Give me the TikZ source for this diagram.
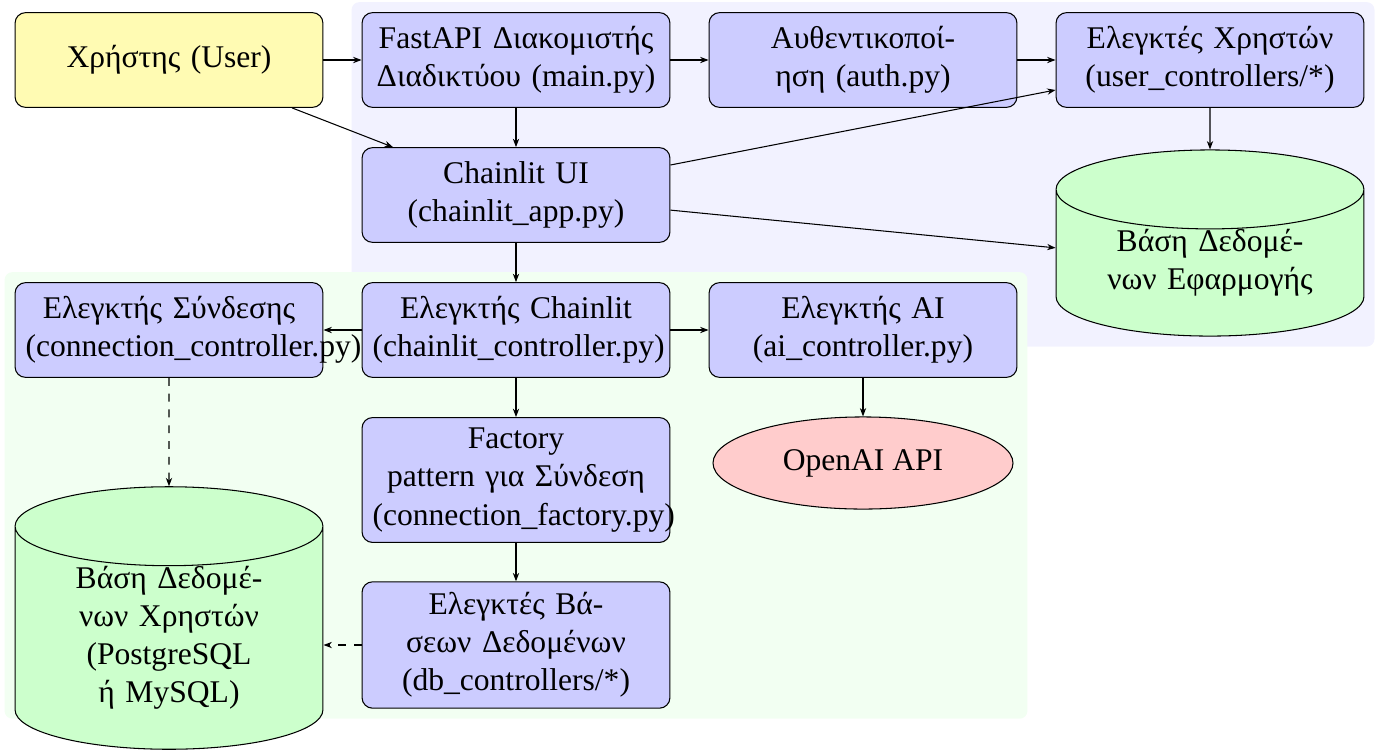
\documentclass[tikz,border=0pt]{standalone}
\usepackage{fontspec}
\setmainfont{Liberation Serif}
\usetikzlibrary{arrows.meta,shapes.geometric,fit,backgrounds}

\tikzset{
  module/.style={draw, rounded corners=4pt, fill=blue!20, text width=109pt,
    align=center, minimum height=36pt, inner sep=4pt},
  actor/.style={module, fill=yellow!30},
  database/.style={draw, cylinder, shape border rotate=90, aspect=0.30,
    fill=green!20, text width=100pt, align=center, minimum width=117pt,
    inner sep=0pt},
  service/.style={draw, ellipse, fill=red!20, minimum width=114pt,
    minimum height=35pt, inner sep=0pt},
  link/.style={-{Stealth[length=3.2pt,width=2.4pt]}},
  weak/.style={link, dashed},
  group/.style={rounded corners=3pt, inner sep=3.8pt},
}

\begin{document}
\begin{tikzpicture}[x=0.38pt,y=-0.38pt,font=\fontsize{12}{14.5}\selectfont]
\useasboundingbox (0,0) rectangle (1380,751);

% Web layer
\node[actor]  (user)     at (169,60)  {Χρήστης (User)};
\node[module] (fastapi)  at (516,60)  {FastAPI Διακομιστής\\Διαδικτύου (main.py)};
\node[module] (auth)     at (863,60)  {Αυθεντικοποί-\\ηση (auth.py)};
\node[module] (userctrl) at (1210,60) {Ελεγκτές Χρηστών\\(user\_controllers/*)};
\node[module] (chainui)  at (516,195) {Chainlit UI\\(chainlit\_app.py)};
\node[database, minimum height=58pt] (appdb) at (1210,263) {Βάση Δεδομέ-\\νων Εφαρμογής};

% Controllers
\node[module] (connctrl)  at (169,330) {Ελεγκτής Σύνδεσης\\(connection\_controller.py)};
\node[module] (chainctrl) at (516,330) {Ελεγκτής Chainlit\\(chainlit\_controller.py)};
\node[module] (aictrl)    at (863,330) {Ελεγκτής AI\\(ai\_controller.py)};
\node[service] (openai)   at (863,463) {OpenAI API};
\node[module] (factory)   at (516,480) {Factory\\pattern για Σύνδεση\\(connection\_factory.py)};
\node[module] (dbctrl)    at (516,645) {Ελεγκτές Βά-\\σεων Δεδομένων\\(db\_controllers/*)};
\node[database, minimum height=80pt] (userdb) at (169,638) {Βάση Δεδομέ-\\νων Χρηστών\\(PostgreSQL\\ή MySQL)};

% Groups
\begin{scope}[on background layer]
\node[group, fill=blue!5, fit=(fastapi)(userctrl)(appdb)] (webgroup) {};
\node[group, fill=green!5, fit=(connctrl)(aictrl)(dbctrl)] (ctrlgroup) {};
\end{scope}

% Connections
\draw[link] (user) -- (fastapi);
\draw[link] (user) -- (chainui);
\draw[link] (fastapi) -- (auth);
\draw[link] (fastapi) -- (chainui);
\draw[link] (auth) -- (userctrl);
\draw[link] (chainui) -- (userctrl);
\draw[link] (chainui) -- (appdb);
\draw[link] (userctrl) -- (appdb);
\draw[link] (chainui) -- (chainctrl);
\draw[link] (chainctrl) -- (connctrl);
\draw[link] (chainctrl) -- (aictrl);
\draw[link] (chainctrl) -- (factory);
\draw[link] (aictrl) -- (openai);
\draw[link] (factory) -- (dbctrl);
\draw[weak] (connctrl) -- (userdb);
\draw[weak] (dbctrl) -- (dbctrl -| userdb.east);
\end{tikzpicture}
\end{document}
